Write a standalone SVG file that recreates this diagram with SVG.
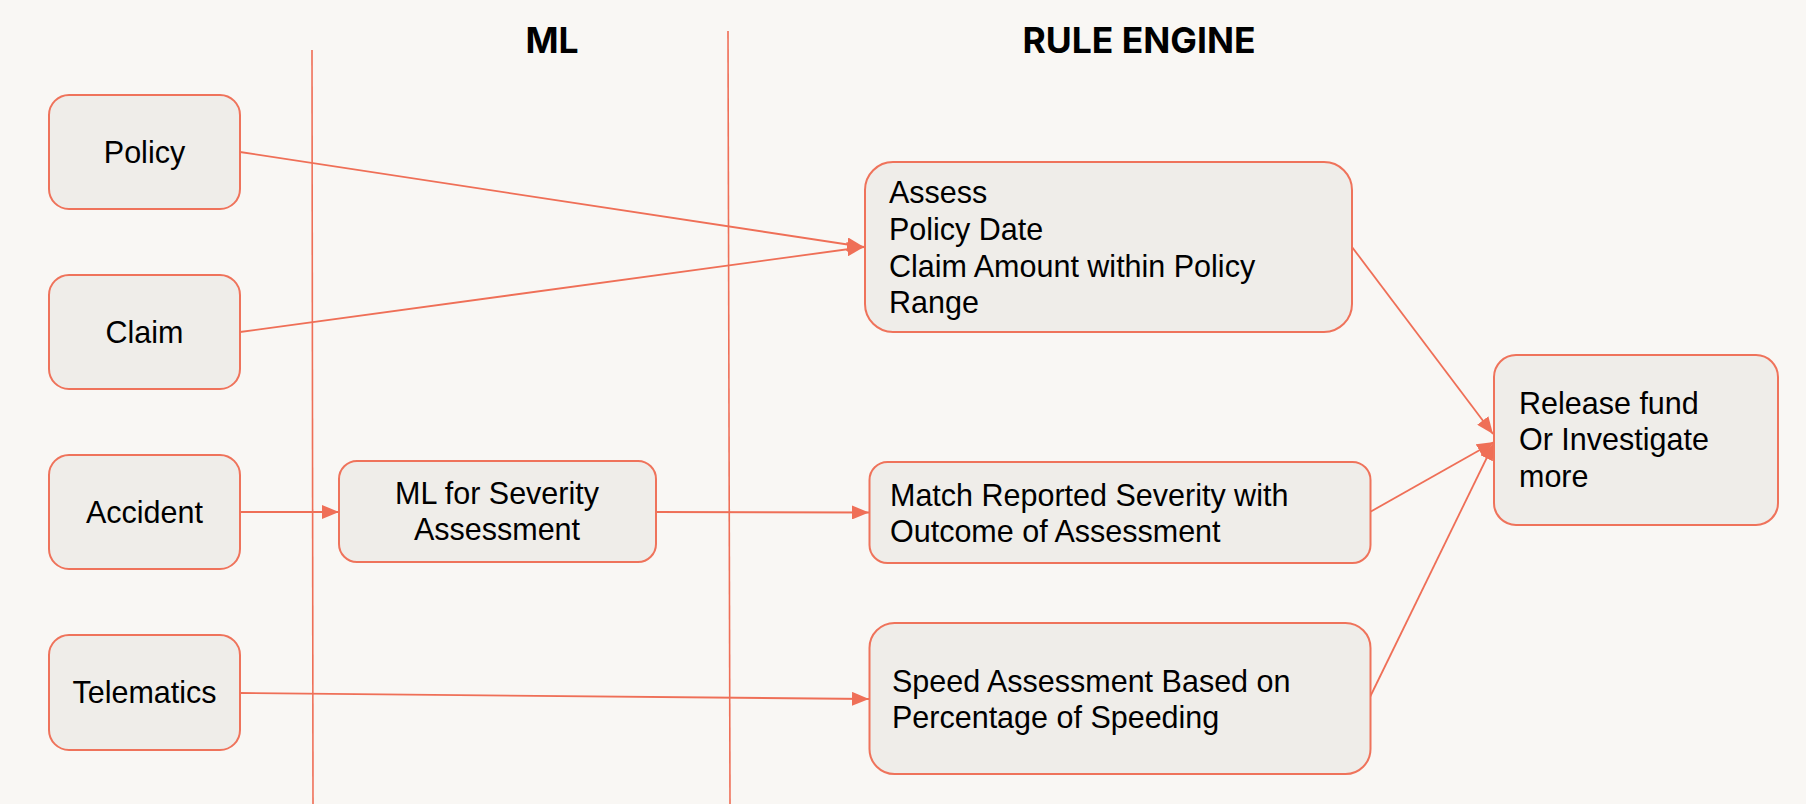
<svg xmlns="http://www.w3.org/2000/svg" width="1806" height="804" viewBox="0 0 1806 804">
<defs>
<style>
.box{fill:#EFEDE9;stroke:#EF735B;stroke-width:2}
.t{font-family:"Liberation Sans",Arial,sans-serif;font-size:30.5px;fill:#000}
.c{text-anchor:middle}
.h{font-family:Inter,"Liberation Sans",sans-serif;font-weight:700;font-size:35.5px;fill:#000;text-anchor:middle}
.ln{stroke:#EF6F57;stroke-width:1.8;fill:none}
.lane{stroke:#EF6F57;stroke-width:1.6}
</style>
<marker id="ar" markerUnits="userSpaceOnUse" viewBox="0 0 17 14" refX="17" refY="7" markerWidth="17" markerHeight="14" orient="auto">
<path d="M0,0 L17,7 L0,14 Z" fill="#EF6F57"/>
</marker>
</defs>
<rect width="1806" height="804" fill="#F9F7F4"/>
<g id="lanes">
<line class="lane" x1="312" y1="50" x2="313" y2="804"/>
<line class="lane" x1="728" y1="31" x2="730" y2="804"/>
<text class="h" x="552" y="53">ML</text>
<text class="h" x="1139" y="52.5">RULE ENGINE</text>
</g>
<g id="connectors">
<path class="ln" d="M240,152 L864,247" marker-end="url(#ar)"/>
<path class="ln" d="M240,332 L864,247" marker-end="url(#ar)"/>
<path class="ln" d="M240,512 L339,512" marker-end="url(#ar)"/>
<path class="ln" d="M655,512 L869,512.5" marker-end="url(#ar)"/>
<path class="ln" d="M240,693 L869,699" marker-end="url(#ar)"/>
<path class="ln" d="M1352,247 L1493,434" marker-end="url(#ar)"/>
<path class="ln" d="M1370,512 L1494,442" marker-end="url(#ar)"/>
<path class="ln" d="M1370,697 L1494,443" marker-end="url(#ar)"/>
</g>
<g id="policy">
<rect class="box" x="49" y="95" width="191" height="114" rx="20"/>
<text class="t c" x="144.5" y="163">Policy</text>
</g>
<g id="claim">
<rect class="box" x="49" y="275" width="191" height="114" rx="20"/>
<text class="t c" x="144.5" y="343">Claim</text>
</g>
<g id="accident">
<rect class="box" x="49" y="455" width="191" height="114" rx="20"/>
<text class="t c" x="144.5" y="523">Accident</text>
</g>
<g id="telematics">
<rect class="box" x="49" y="635" width="191" height="115" rx="20"/>
<text class="t c" x="144.5" y="703">Telematics</text>
</g>
<g id="ml-severity">
<rect class="box" x="339" y="461" width="317" height="101" rx="18"/>
<text class="t c" x="497" y="504">ML for Severity</text>
<text class="t c" x="497" y="540">Assessment</text>
</g>
<g id="assess">
<rect class="box" x="865" y="162" width="487" height="170" rx="28"/>
<text class="t" x="889" y="203">Assess</text>
<text class="t" x="889" y="240">Policy Date</text>
<text class="t" x="889" y="277">Claim Amount within Policy</text>
<text class="t" x="889" y="313">Range</text>
</g>
<g id="match">
<rect class="box" x="869.5" y="462" width="501" height="101" rx="18"/>
<text class="t" x="890" y="506">Match Reported Severity with</text>
<text class="t" x="890" y="542">Outcome of Assessment</text>
</g>
<g id="speed">
<rect class="box" x="869.5" y="623" width="501" height="151" rx="25"/>
<text class="t" x="892" y="692">Speed Assessment Based on</text>
<text class="t" x="892" y="728">Percentage of Speeding</text>
</g>
<g id="release">
<rect class="box" x="1494" y="355" width="284" height="170" rx="22"/>
<text class="t" x="1519" y="414">Release fund</text>
<text class="t" x="1519" y="450">Or Investigate</text>
<text class="t" x="1519" y="487">more</text>
</g>
</svg>
